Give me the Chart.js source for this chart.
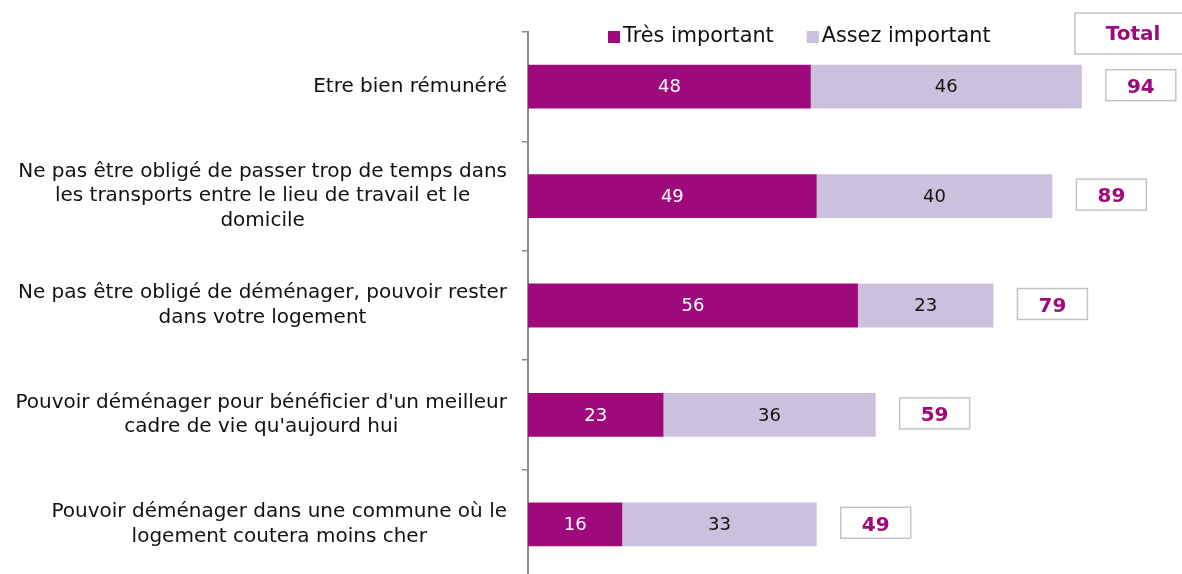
<!DOCTYPE html>
<html>
<head>
<meta charset="utf-8">
<script src="https://cdn.jsdelivr.net/npm/chart.js@4"></script>
<style>
  html, body { margin: 0; padding: 0; background: #fff; overflow: hidden; }
  #wrap { width: 1182px; height: 580px; position: relative; }
</style>
</head>
<body>
<div id="wrap"><canvas id="critereChart"></canvas></div>
<script>
// Critères importants
const categories = [
  ['Etre bien rémunéré'],
  ['Ne pas être obligé de passer trop de temps dans', 'les transports entre le lieu de travail et le', 'domicile'],
  ['Ne pas être obligé de déménager, pouvoir rester', 'dans votre logement'],
  ["Pouvoir déménager pour bénéficier d'un meilleur", "cadre de vie qu'aujourd hui"],
  ['Pouvoir déménager dans une commune où le', 'logement coutera moins cher']
];
const seriesNames = ['Très important', 'Assez important'];
const tresImportant = [48, 49, 56, 23, 16];
const assezImportant = [46, 40, 23, 36, 33];
const totals = [94, 89, 79, 59, 49];
const totalTitle = 'Total';

const PURPLE = '#9E0A7B';
const LAVENDER = '#CBC1DC';
const FONT = '"DejaVu Sans", Verdana, sans-serif';

const drawExtras = {
  id: 'drawExtras',
  afterDatasetsDraw(chart) {
    const ctx = chart.ctx;
    const y = chart.scales.y;
    const x = chart.scales.x;
    ctx.save();

    // category labels: block right aligned, lines centered
    ctx.font = '20px ' + FONT;
    ctx.fillStyle = '#111';
    ctx.textAlign = 'center';
    ctx.textBaseline = 'middle';
    const lineH = 24.5;
    categories.forEach((lines, i) => {
      const cy = y.getPixelForValue(i);
      const w = Math.max(...lines.map(l => ctx.measureText(l).width));
      const cx = 507 - w / 2;
      const y0 = cy - (lines.length - 1) * lineH / 2;
      lines.forEach((l, k) => ctx.fillText(l, cx, y0 + k * lineH));
    });

    // values in the bars
    ctx.font = '18px ' + FONT;
    chart.data.datasets.forEach((ds, di) => {
      const meta = chart.getDatasetMeta(di);
      meta.data.forEach((bar, i) => {
        ctx.fillStyle = di === 0 ? '#fff' : '#111';
        ctx.fillText(String(ds.data[i]), (bar.x + bar.base) / 2, bar.y + 1);
      });
    });

    // total boxes
    ctx.lineWidth = 1.5;
    ctx.strokeStyle = '#c4c4c4';
    ctx.font = 'bold 20px ' + FONT;
    totals.forEach((t, i) => {
      const bx = x.getPixelForValue(t) + 24;
      const by = y.getPixelForValue(i) - 17;
      ctx.fillStyle = '#fff';
      ctx.fillRect(bx, by, 70, 31);
      ctx.strokeRect(bx, by, 70, 31);
      ctx.fillStyle = PURPLE;
      ctx.fillText(String(t), bx + 35, by + 18);
    });
    ctx.strokeRect(1075, 13, 120, 41);
    ctx.fillStyle = PURPLE;
    ctx.fillText(totalTitle, 1133, 35);

    // legend
    ctx.font = '20.8px ' + FONT;
    ctx.textAlign = 'left';
    let lx = 608;
    chart.data.datasets.forEach((ds) => {
      ctx.fillStyle = ds.backgroundColor;
      ctx.fillRect(lx, 31, 12, 12);
      ctx.fillStyle = '#111';
      ctx.fillText(ds.label, lx + 15, 37);
      lx += 15 + ctx.measureText(ds.label).width + 33;
    });
    ctx.restore();
  }
};

const ctxEl = document.getElementById('critereChart');
const chart = new Chart(ctxEl, {
  type: 'bar',
  data: {
    labels: categories,
    datasets: [{
      label: seriesNames[0],
      data: tresImportant,
      backgroundColor: PURPLE,
      barPercentage: 0.4,
      categoryPercentage: 1,
    }, {
      label: seriesNames[1],
      data: assezImportant,
      backgroundColor: LAVENDER,
      barPercentage: 0.4,
      categoryPercentage: 1,
    }]
  },
  options: {
    responsive: true,
    maintainAspectRatio: false,
    animation: false,
    indexAxis: 'y',
    layout: { padding: { top: 32, bottom: 1, left: 0, right: 0 } },
    plugins: {
      legend: { display: false },
      tooltip: { enabled: false }
    },
    scales: {
      x: {
        stacked: true,
        display: false,
        min: 0,
        max: 111
      },
      y: {
        stacked: true,
        ticks: { display: false },
        grid: { drawOnChartArea: false, drawTicks: true, tickLength: 6, color: '#8c8c8c', lineWidth: 1.5 },
        border: { color: '#8c8c8c', width: 2 },
        afterFit(scale) { scale.width = 528; }
      }
    }
  },
  plugins: [drawExtras]
});
</script>
</body>
</html>
